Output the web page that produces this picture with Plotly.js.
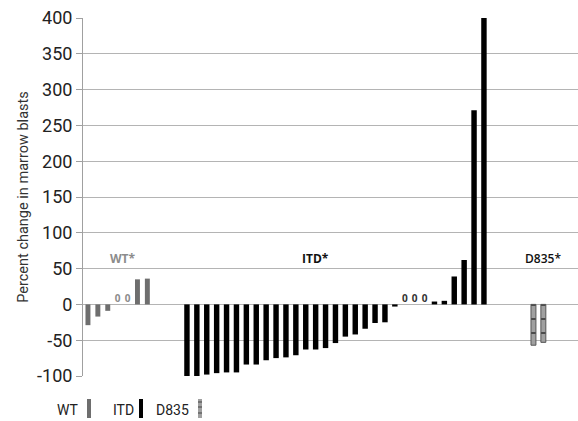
<!DOCTYPE html>
<html><head><meta charset="utf-8">
<script src="https://cdn.plot.ly/plotly-3.0.1.min.js"></script>
<style>html,body{margin:0;padding:0;background:#fff;}#chart{width:578px;height:421px;}</style>
</head><body><div id="chart"></div>
<script>
// Data
const groups = ["WT", "ITD", "D835"];
const groupLabels = ["WT*", "ITD*", "D835*"];
const wtValues = [-29, -17, -9, 0, 0, 35, 36];
const itdValues = [-100, -100, -98, -96, -95, -95, -84, -84, -78, -75, -74, -71, -63, -63, -61, -54, -45, -42, -34, -26, -25, -3, 0, 0, 0, 4, 5, 39, 62, 271, 400];
const d835Values = [-57, -53];
const yTicks = [-100, -50, 0, 50, 100, 150, 200, 250, 300, 350, 400];

// slot layout (category slots along x, with empty gaps between groups)
const wtStart = 0, itdStart = 10, d835Start = 45, totalSlots = 50;
const idx = (arr, start) => arr.map((_, i) => start + i);
const wtX = idx(wtValues, wtStart), itdX = idx(itdValues, itdStart), d835X = idx(d835Values, d835Start);

const font = "Roboto";
const grey = "#6e6e6e";

function zeros(xs, vs, color) {
  const x = [], y = [], t = [];
  vs.forEach((v, i) => { if (v === 0) { x.push(xs[i]); y.push(0); t.push("0"); } });
  return {type: "scatter", mode: "text", x: x, y: y, text: t, textposition: "top center",
    textfont: {family: "'Open Sans', sans-serif", size: 10, color: color, weight: 700},
    hoverinfo: "skip", showlegend: false, cliponaxis: false};
}

const traces = [
  {type: "bar", x: wtX, y: wtValues, width: 0.5, marker: {color: grey, line: {width: 0}}, name: groups[0], showlegend: false},
  {type: "bar", x: itdX, y: itdValues, width: 0.55, marker: {color: "#000", line: {width: 0}}, name: groups[1], showlegend: false},
  {type: "bar", x: d835X, y: d835Values, width: 0.5, name: groups[2], showlegend: false,
    marker: {color: "#a0a0a0", line: {width: 1, color: "#555"},
      pattern: {shape: "-", fgcolor: "#3a3a3a", bgcolor: "#a0a0a0", size: 14, solidity: 0.12, fillmode: "replace"}}},
  zeros(wtX, wtValues, "#8c8c8c"),
  zeros(itdX, itdValues, "#333"),
];

const labelY = 64;
const annotations = [
  {x: 3.5, y: labelY, text: groupLabels[0], font: {family: "'Open Sans', sans-serif", size: 12, color: "#8c8c8c", weight: 700}},
  {x: 23, y: labelY, text: groupLabels[1], font: {family: "'Open Sans', sans-serif", size: 12, color: "#111", weight: 700}},
  {x: 46, y: labelY, text: groupLabels[2], font: {family: "'Open Sans', sans-serif", size: 12, color: "#111", weight: 600}},
].map(a => Object.assign({xref: "x", yref: "y", showarrow: false, xanchor: "center", yanchor: "middle"}, a));

// legend (text followed by swatch); plot area is 495 x 358 px
const legendItems = [
  {text: groups[0], tx: 81, sx: 87, color: grey},
  {text: groups[1], tx: 136, sx: 139, color: "#000"},
  {text: groups[2], tx: 191, sx: 198, color: "#a0a0a0"},
];
const shapes = [];
const py = px => (376 - px) / 358;
legendItems.forEach((it) => {
  annotations.push({xref: "paper", yref: "paper", x: (it.tx - 83) / 495, y: py(410), xanchor: "right", yanchor: "middle",
    showarrow: false, text: it.text, font: {family: font, size: 14, color: "#222"}});
  shapes.push({type: "rect", xref: "paper", yref: "paper", x0: (it.sx - 83) / 495, x1: (it.sx + 4 - 83) / 495,
    y0: py(418), y1: py(399), fillcolor: it.color, line: {width: 0}});
});
// dark bands for the D835 legend swatch
[402, 407, 413].forEach(yy => {
  shapes.push({type: "line", xref: "paper", yref: "paper", x0: (198 - 83) / 495, x1: (202 - 83) / 495,
    y0: py(yy), y1: py(yy), line: {color: "#444", width: 1}});
});

const layout = {
  width: 578, height: 421,
  margin: {l: 83, r: 0, t: 18, b: 45},
  paper_bgcolor: "#fff", plot_bgcolor: "#fff",
  showlegend: false,
  bargap: 0.5,
  xaxis: {range: [-0.5, totalSlots - 0.5], showgrid: false, zeroline: false, showticklabels: false, ticks: "", showline: false, fixedrange: true},
  yaxis: {range: [-100, 400], tickvals: yTicks, ticktext: yTicks.map(String), showgrid: true, gridcolor: "#b4b4b4", gridwidth: 1,
    zeroline: false, showline: true, linecolor: "#a0a0a0", linewidth: 1, ticks: "outside", ticklen: 6, tickcolor: "#a0a0a0",
    tickfont: {family: font, size: 18, color: "#222"},
    title: {text: "Percent change in marrow blasts", font: {family: font, size: 14.5, color: "#333"}, standoff: 4}},
  annotations: annotations,
  shapes: shapes,
};

Plotly.newPlot("chart", traces, layout, {displayModeBar: false, staticPlot: true});
</script></body></html>
